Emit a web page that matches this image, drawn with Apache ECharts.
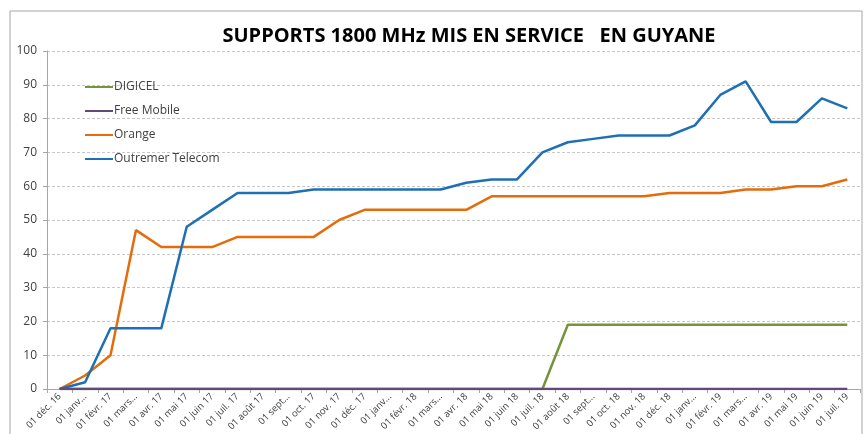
<!DOCTYPE html>
<html>
<head>
<meta charset="utf-8">
<script src="https://cdn.jsdelivr.net/npm/echarts@6/dist/echarts.min.js"></script>
<style>
  html, body { margin: 0; padding: 0; background: #fff; }
  #chart { width: 866px; height: 434px; }
</style>
</head>
<body>
<div id="chart"></div>
<script>
// month labels, as Excel truncated them
const months = [
  "01 déc. 16", "01 janv...", "01 févr. 17", "01 mars...", "01 avr. 17", "01 mai 17",
  "01 juin 17", "01 juil. 17", "01 août 17", "01 sept...", "01 oct. 17", "01 nov. 17",
  "01 déc. 17", "01 janv...", "01 févr. 18", "01 mars...", "01 avr. 18", "01 mai 18",
  "01 juin 18", "01 juil. 18", "01 août 18", "01 sept...", "01 oct. 18", "01 nov. 18",
  "01 déc. 18", "01 janv...", "01 févr. 19", "01 mars...", "01 avr. 19", "01 mai 19",
  "01 juin 19", "01 juil. 19"
];

const digicel = [0, 0, 0, 0, 0, 0, 0, 0, 0, 0, 0, 0, 0, 0, 0, 0, 0, 0, 0, 0,
  19, 19, 19, 19, 19, 19, 19, 19, 19, 19, 19, 19];
const freeMobile = [0, 0, 0, 0, 0, 0, 0, 0, 0, 0, 0, 0, 0, 0, 0, 0, 0, 0, 0, 0,
  0, 0, 0, 0, 0, 0, 0, 0, 0, 0, 0, 0];
const orange = [0, 4, 10, 47, 42, 42, 42, 45, 45, 45, 45, 50, 53, 53, 53, 53, 53, 57,
  57, 57, 57, 57, 57, 57, 58, 58, 58, 59, 59, 60, 60, 62];
const outremer = [0, 2, 18, 18, 18, 48, 53, 58, 58, 58, 59, 59, 59, 59, 59, 59, 61, 62,
  62, 70, 73, 74, 75, 75, 75, 78, 87, 91, 79, 79, 86, 83];

const ele = document.getElementById("chart");
const chart = echarts.init(ele);

function lineSeries(name, data, color) {
  return {
    name: name,
    type: "line",
    data: data,
    symbol: "none",
    lineStyle: { width: 2.5, color: color },
    itemStyle: { color: color },
    animation: false,
  };
}

const option = {
  backgroundColor: "#fff",
  textStyle: { fontFamily: "'Open Sans', sans-serif" },
  graphic: [
    {
      type: "rect",
      shape: { x: 10, y: 11, width: 852, height: 430 },
      style: { fill: "none", stroke: "#a6a6a6", lineWidth: 1 },
      silent: true,
    },
  ],
  title: {
    text: "SUPPORTS 1800 MHz MIS EN SERVICE   EN GUYANE",
    left: 464,
    textAlign: "center",
    top: 21,
    textStyle: {
      fontFamily: "'Open Sans', sans-serif",
      fontWeight: "bold",
      fontSize: 20,
      color: "#000",
    },
  },
  legend: {
    orient: "vertical",
    left: 80,
    top: 76,
    itemGap: 12,
    itemWidth: 28,
    itemHeight: 12,
    icon: "path://M0,5 L28,5 L28,7 L0,7 Z",
    data: ["DIGICEL", "Free Mobile", "Orange", "Outremer Telecom"],
    textStyle: { fontSize: 12, color: "#404040", padding: [0, 0, 0, -4] },
  },
  grid: {
    left: 47,
    right: 6,
    top: 51,
    bottom: 45,
  },
  xAxis: {
    type: "category",
    data: months,
    boundaryGap: true,
    axisLine: { lineStyle: { color: "#a6a6a6" } },
    axisTick: { show: true, length: 4, lineStyle: { color: "#a6a6a6" } },
    axisLabel: {
      interval: 0,
      rotate: 45,
      fontSize: 9.5,
      color: "#404040",
      margin: 6,
    },
  },
  yAxis: {
    type: "value",
    min: 0,
    max: 100,
    interval: 10,
    axisLine: { show: true, lineStyle: { color: "#a6a6a6" } },
    axisTick: { show: true, length: 4, lineStyle: { color: "#a6a6a6" } },
    axisLabel: { fontSize: 12, color: "#404040", margin: 10 },
    splitLine: { lineStyle: { color: "#c8c8c8", type: [3, 2] } },
  },
  series: [
    lineSeries("DIGICEL", digicel, "#77933c"),
    lineSeries("Orange", orange, "#e46c0a"),
    lineSeries("Outremer Telecom", outremer, "#1f6fb4"),
    lineSeries("Free Mobile", freeMobile, "#604a7b"),
  ],
};

chart.setOption(option);
</script>
</body>
</html>
